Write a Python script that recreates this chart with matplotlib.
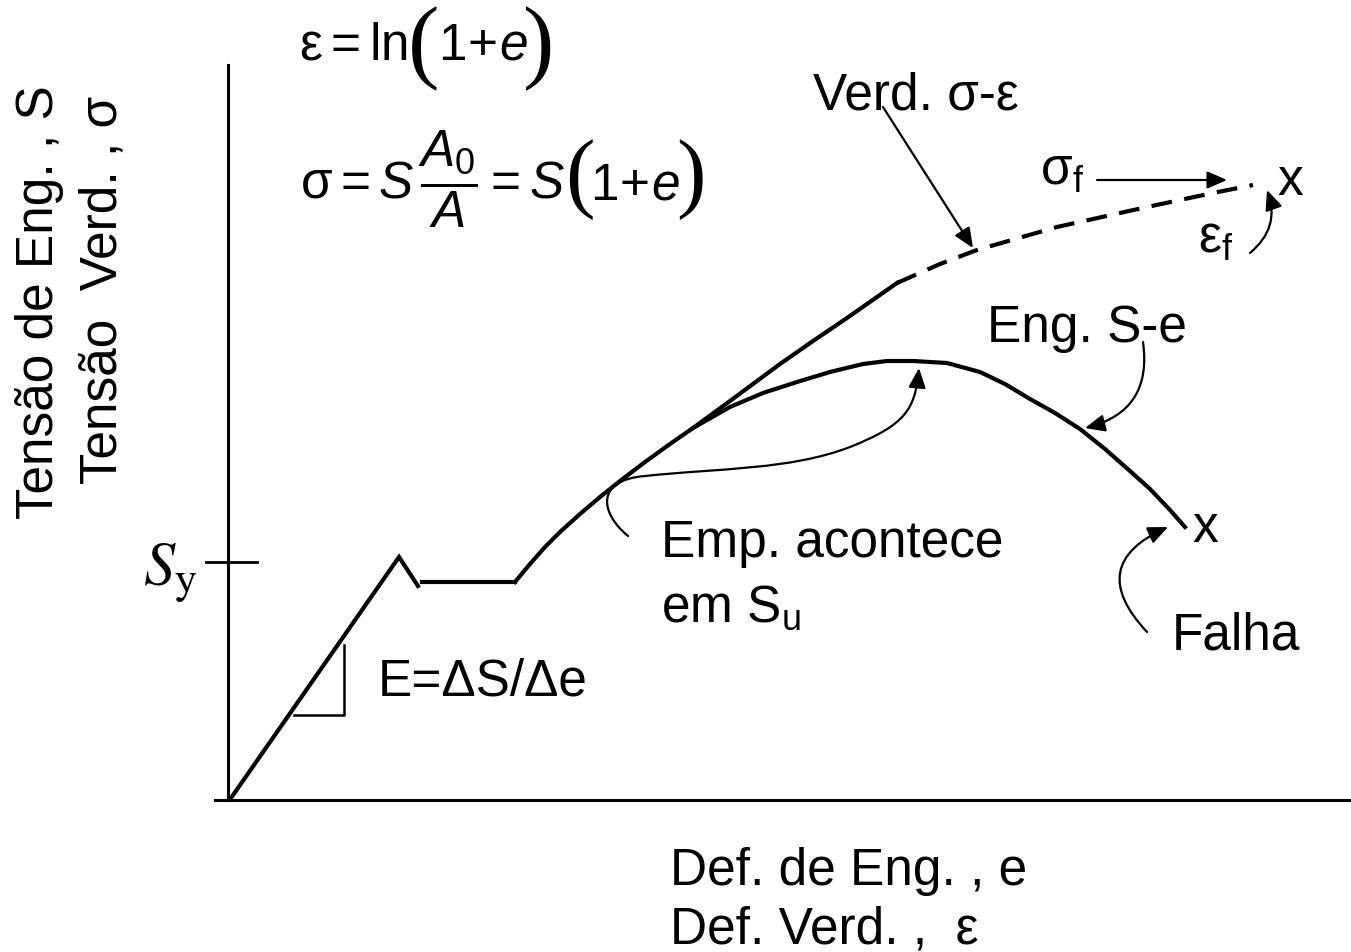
import matplotlib.pyplot as plt
from matplotlib.patches import FancyArrowPatch
from matplotlib.path import Path

plt.rcParams['font.family'] = ['Liberation Sans', 'DejaVu Sans']
plt.rcParams['mathtext.fontset'] = 'custom'
plt.rcParams['mathtext.rm'] = 'Liberation Sans'
plt.rcParams['mathtext.it'] = 'Liberation Sans:italic'
plt.rcParams['mathtext.bf'] = 'Liberation Sans:bold'

# trecho elástico com pico de escoamento
elast_e = [0.03, 1.71, 1.90]
elast_s = [0.02, 2.43, 2.14]
# patamar de escoamento
patamar_e = [1.94, 2.87]
patamar_s = [2.18, 2.18]
# curva de engenharia S-e (encruamento e estricção)
eng_e = [2.87, 3.02, 3.17, 3.32, 3.52, 3.72, 3.92, 4.17, 4.42, 4.65,
         5.02, 5.35, 5.69, 6.02, 6.35, 6.59, 6.85, 7.19, 7.52, 7.77,
         8.02, 8.27, 8.52, 8.77, 9.02, 9.22, 9.42, 9.57]
eng_s = [2.18, 2.36, 2.53, 2.68, 2.86, 3.03, 3.19, 3.38, 3.56, 3.72,
         3.93, 4.07, 4.18, 4.28, 4.36, 4.39, 4.39, 4.37, 4.28, 4.16,
         4.01, 3.87, 3.71, 3.51, 3.29, 3.11, 2.90, 2.73]
# curva verdadeira sigma-epsilon depois que se separa da de engenharia
verd_e = [4.65, 5.02, 5.52, 5.85, 6.19, 6.69]
verd_s = [3.72, 3.99, 4.36, 4.59, 4.82, 5.17]
# trecho tracejado até a fratura
frat_e = [6.69, 7.12, 7.49, 8.29, 9.19, 9.85, 10.25]
frat_s = [5.17, 5.36, 5.50, 5.73, 5.93, 6.07, 6.15]
Sy = 2.38

FS = 37
LW = 3

fig = plt.figure(figsize=(13.51, 9.52), dpi=100)
ax = fig.add_axes([0, 0, 1, 1])
ax.set_xlim(-2.28, 11.23)
ax.set_ylim(-1.52, 8.00)
ax.axis('off')

# eixos
ax.plot([0, 0], [0, 7.35], color='k', lw=2.2)
ax.plot([-0.13, 11.23], [0, 0], color='k', lw=2.2)
ax.plot([-0.22, 0.29], [Sy, Sy], color='k', lw=2)

# curvas
ax.plot(elast_e, elast_s, color='k', lw=LW, solid_joinstyle='miter')
ax.plot(patamar_e, patamar_s, color='k', lw=LW)
ax.plot(eng_e, eng_s, color='k', lw=LW, solid_joinstyle='round')
ax.plot(verd_e, verd_s, color='k', lw=LW, solid_joinstyle='round')
ax.plot(frat_e, frat_s, color='k', lw=LW, dashes=(5, 3))

# triângulo do módulo E
ax.plot([0.66, 1.16, 1.16], [0.85, 0.85, 1.55], color='k', lw=1.8)
ax.text(1.50, 1.04, 'E=ΔS/Δe', fontsize=FS, va='baseline')

# fraturas
ax.text(eng_e[-1] + 0.20, eng_s[-1] - 0.15, 'x', fontsize=FS,
        ha='center', va='baseline')
ax.text(frat_e[-1] + 0.37, frat_s[-1] - 0.10, 'x', fontsize=FS,
        ha='center', va='baseline')

# rótulos dos eixos
ax.text(-1.75, 4.98, 'Tensão de Eng. , S', fontsize=FS, rotation=90,
        rotation_mode='anchor', ha='center', va='baseline')
ax.text(-1.11, 5.10, 'Tensão  Verd. , σ', fontsize=FS, rotation=90,
        rotation_mode='anchor', ha='center', va='baseline')
ax.text(4.42, -0.85, 'Def. de Eng. , e', fontsize=FS, va='baseline')
ax.text(4.42, -1.43, 'Def. Verd. ,  ε', fontsize=FS, va='baseline')
ax.text(-0.85, 2.15, r'$S_\mathrm{y}$', fontsize=45, va='baseline',
        math_fontfamily='stix')

# fórmulas
ax.text(0.71, 7.40, r'$\mathrm{\varepsilon} = \mathrm{ln}$', fontsize=FS,
        va='baseline')
ax.text(1.80, 7.29, '(', fontsize=68, family='Liberation Serif', va='baseline')
ax.text(2.10, 7.40, r'$1\!+\!e$', fontsize=FS, va='baseline')
ax.text(2.95, 7.29, ')', fontsize=68, family='Liberation Serif', va='baseline')

ax.text(0.72, 6.00, r'$\mathrm{\sigma} = S\,\dfrac{A_0}{A} = S$', fontsize=FS,
        va='baseline')
ax.text(3.37, 5.99, '(', fontsize=64, family='Liberation Serif', va='baseline')
ax.text(3.62, 6.00, r'$1\!+\!e$', fontsize=FS, va='baseline')
ax.text(4.48, 5.99, ')', fontsize=64, family='Liberation Serif', va='baseline')

# legendas e setas
seta = dict(arrowstyle='-|>,head_length=0.8,head_width=0.35', color='k',
            lw=1.6, shrinkA=0, shrinkB=0, mutation_scale=15)

ax.text(5.85, 6.90, 'Verd. σ-ε', fontsize=FS, va='baseline')
ax.annotate('', xy=(7.45, 5.52), xytext=(6.55, 6.93), arrowprops=seta)

ax.text(8.12, 6.15, r'σ$_\mathrm{f}$', fontsize=FS, va='baseline')
ax.annotate('', xy=(9.99, 6.20), xytext=(8.69, 6.20), arrowprops=seta)

ax.text(9.70, 5.47, r'ε$_\mathrm{f}$', fontsize=FS, va='baseline')
ax.annotate('', xy=(10.39, 6.10), xytext=(10.22, 5.47),
            arrowprops=dict(seta, connectionstyle='arc3,rad=0.35'))

ax.text(7.59, 4.58, 'Eng. S-e', fontsize=FS, va='baseline')
ax.annotate('', xy=(8.57, 3.72), xytext=(9.15, 4.58),
            arrowprops=dict(seta, connectionstyle='arc3,rad=-0.45'))

ax.text(4.33, 2.43, 'Emp. acontece', fontsize=FS, va='baseline')
ax.text(4.33, 1.78, r'em S$_\mathrm{u}$', fontsize=FS, va='baseline')
caminho = Path([(4.00, 2.64), (3.72, 2.87), (3.67, 3.20), (4.17, 3.24),
                (4.92, 3.32), (5.62, 3.30), (6.22, 3.53),
                (6.77, 3.75), (6.87, 3.90), (6.91, 4.32)],
               [Path.MOVETO] + [Path.CURVE4] * 9)
ax.add_patch(FancyArrowPatch(path=caminho, arrowstyle=seta['arrowstyle'],
                             color='k', lw=1.6, mutation_scale=15))

ax.text(9.44, 1.50, 'Falha', fontsize=FS, va='baseline')
ax.annotate('', xy=(9.40, 2.73), xytext=(9.19, 1.68),
            arrowprops=dict(seta, connectionstyle='arc3,rad=-0.7'))

fig.savefig('out.png', dpi=100)
